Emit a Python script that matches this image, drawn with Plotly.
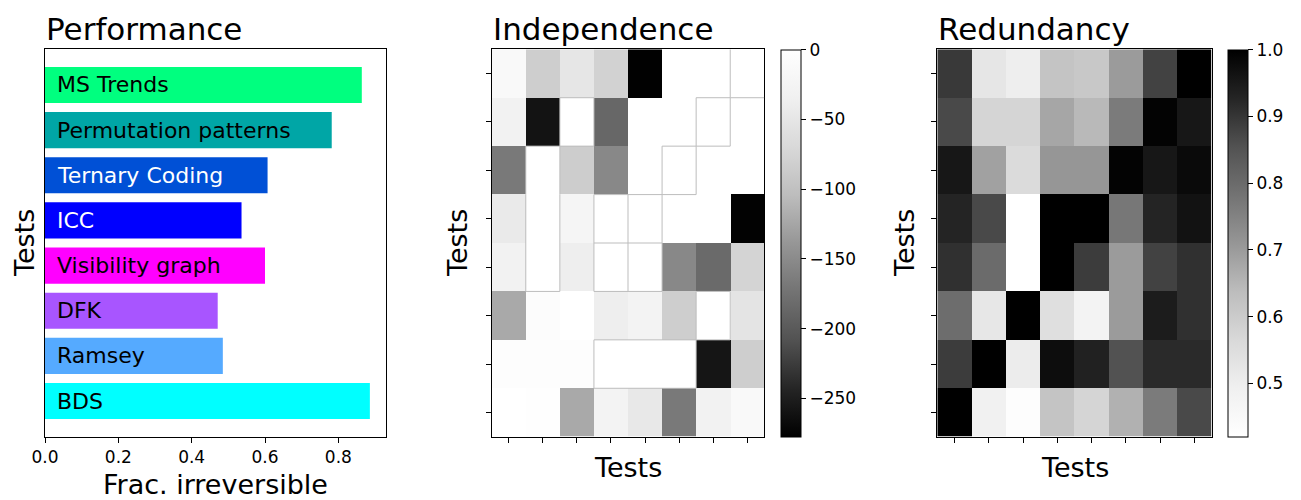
import numpy as np
import plotly.graph_objects as go

# ---- data -------------------------------------------------------------
tests = ["MS Trends", "Permutation patterns", "Ternary Coding", "ICC",
         "Visibility graph", "DFK", "Ramsey", "BDS"]
frac_irreversible = [0.864, 0.782, 0.607, 0.536, 0.600, 0.471, 0.485, 0.886]
bar_colors = ["#00ff7f", "#00a6a6", "#0050d6", "#0000ff",
              "#ff00ff", "#a855ff", "#55aaff", "#00ffff"]
label_colors = ["black", "black", "white", "white",
                "black", "black", "black", "black"]

# log-probability of independence between pairs of tests
independence = [
    [-14, -83, -50, -78, -277, 0, 0, -1],
    [-31, -260, 0, -186, 0, 0, 0, 0],
    [-167, 0, -84, -153, 0, 0, 0, 0],
    [-44, 0, -22, 0, 0, 0, 0, -276],
    [-31, 0, -37, 0, 0, -153, -183, -76],
    [-122, -6, 0, -37, -28, -83, 0, -53],
    [-4, -4, -5, 0, 0, 0, -258, -83],
    [0, -3, -122, -28, -46, -167, -31, -14],
]
# cell groups outlined in the independence map (0 = no outline)
indep_groups = [
    [0, 0, 0, 0, 0, 0, 0, 1],
    [0, 0, 9, 0, 0, 0, 2, 0],
    [0, 7, 0, 0, 0, 3, 0, 0],
    [0, 7, 0, 6, 4, 0, 0, 0],
    [0, 7, 0, 5, 10, 0, 0, 0],
    [0, 0, 0, 0, 0, 0, 11, 0],
    [0, 0, 0, 8, 8, 8, 0, 0],
    [0, 0, 0, 0, 0, 0, 0, 0],
]

redundancy = [
    [0.895, 0.525, 0.500, 0.620, 0.610, 0.700, 0.880, 1.000],
    [0.870, 0.575, 0.575, 0.680, 0.645, 0.765, 0.995, 0.955],
    [0.955, 0.690, 0.560, 0.710, 0.710, 0.995, 0.955, 0.980],
    [0.930, 0.870, 0.420, 1.000, 1.000, 0.775, 0.930, 0.965],
    [0.910, 0.800, 0.420, 1.000, 0.890, 0.700, 0.880, 0.910],
    [0.795, 0.520, 1.000, 0.545, 0.480, 0.700, 0.945, 0.910],
    [0.890, 1.000, 0.505, 0.975, 0.935, 0.855, 0.920, 0.920],
    [1.000, 0.490, 0.430, 0.620, 0.575, 0.660, 0.765, 0.870],
]

indep_ticks = [0, -50, -100, -150, -200, -250]
redund_ticks = [0.5, 0.6, 0.7, 0.8, 0.9, 1.0]
perf_ticks = [0.0, 0.2, 0.4, 0.6, 0.8]

# ---- layout geometry ----------------------------------------------------
W, H = 1301, 500
FONT = "DejaVu Sans"
y_dom = [63.3 / H, 450.7 / H]
bar_dom = [45 / W, 386 / W]
ind_dom = [491.7 / W, 764.3 / W]
red_dom = [937.3 / W, 1211.7 / W]

greys = [[0.0, "#ffffff"], [0.125, "#f0f0f0"], [0.25, "#d9d9d9"],
         [0.375, "#bdbdbd"], [0.5, "#969696"], [0.625, "#737373"],
         [0.75, "#525252"], [0.875, "#252525"], [1.0, "#000000"]]
greys_r = [[1 - p, c] for p, c in reversed(greys)]

fig = go.Figure()

n = len(tests)
ypos = list(range(n - 1, -1, -1))  # first test at the top

fig.add_trace(go.Bar(
    x=frac_irreversible, y=ypos, orientation="h", width=0.8,
    marker=dict(color=bar_colors, line=dict(width=0)),
    xaxis="x", yaxis="y", showlegend=False, hoverinfo="skip"))


def colorbar(left_px, ticks, fmt=None):
    cb = dict(x=left_px / W, xanchor="left", xpad=0, ypad=0,
              y=y_dom[0], yanchor="bottom", len=y_dom[1] - y_dom[0],
              lenmode="fraction", thickness=20, thicknessmode="pixels",
              outlinecolor="black", outlinewidth=1,
              ticks="outside", ticklen=5, tickcolor="black",
              tickvals=ticks,
              tickfont=dict(family=FONT, size=17, color="black"))
    if fmt:
        cb["tickformat"] = fmt
    return cb


cells = list(range(8))
fig.add_trace(go.Heatmap(
    z=independence, x=cells, y=cells, colorscale=greys_r,
    zmin=-277.5, zmax=0, xaxis="x2", yaxis="y2", hoverinfo="skip",
    colorbar=colorbar(781, indep_ticks)))

fig.add_trace(go.Heatmap(
    z=redundancy, x=cells, y=cells, colorscale=greys,
    zmin=0.42, zmax=1.0, xaxis="x3", yaxis="y3", hoverinfo="skip",
    colorbar=colorbar(1227.7, redund_ticks, ".1f")))

axis_common = dict(showline=True, mirror=True, linecolor="black", linewidth=1,
                   showgrid=False, zeroline=False, ticks="outside", ticklen=5,
                   tickcolor="black", tickwidth=1, automargin=False,
                   tickfont=dict(family=FONT, size=17, color="black"))

heat_x = dict(axis_common, range=[-0.5, 7.5], tickvals=cells,
              ticktext=[""] * 8)
heat_y = dict(axis_common, range=[7.5, -0.5], tickvals=cells,
              ticktext=[""] * 8)

fig.update_layout(
    width=W, height=H, margin=dict(l=0, r=0, t=0, b=0, pad=0),
    autosize=False,
    paper_bgcolor="white", plot_bgcolor="white",
    font=dict(family=FONT, color="black"),
    xaxis=dict(axis_common, domain=bar_dom, anchor="y", range=[0, 0.93],
               tickvals=perf_ticks, tickformat=".1f"),
    yaxis=dict(axis_common, domain=y_dom, anchor="x", range=[-0.79, 7.79],
               ticks="", showticklabels=False),
    xaxis2=dict(heat_x, domain=ind_dom, anchor="y2"),
    yaxis2=dict(heat_y, domain=y_dom, anchor="x2"),
    xaxis3=dict(heat_x, domain=red_dom, anchor="y3"),
    yaxis3=dict(heat_y, domain=y_dom, anchor="x3"),
)

# test names written inside the bars
for name, yv, col in zip(tests, ypos, label_colors):
    fig.add_annotation(x=0.028, y=yv, xref="x", yref="y", text=name,
                       showarrow=False, xanchor="left", yanchor="middle",
                       font=dict(family=FONT, size=22, color=col))

# light outlines around the grouped cells of the independence map
g = np.array(indep_groups)
rows, cols = g.shape
for r in range(rows):
    for c in range(cols):
        # boundary with right neighbour
        if c + 1 < cols and g[r, c] != g[r, c + 1] and (g[r, c] or g[r, c + 1]):
            fig.add_shape(type="line", xref="x2", yref="y2",
                          x0=c + 0.5, x1=c + 0.5, y0=r - 0.5, y1=r + 0.5,
                          line=dict(color="#bdbdbd", width=1))
        # boundary with lower neighbour
        if r + 1 < rows and g[r, c] != g[r + 1, c] and (g[r, c] or g[r + 1, c]):
            fig.add_shape(type="line", xref="x2", yref="y2",
                          x0=c - 0.5, x1=c + 0.5, y0=r + 0.5, y1=r + 0.5,
                          line=dict(color="#bdbdbd", width=1))


def paper_x(px):
    return px / W


def paper_y(py):
    return 1 - py / H


# panel titles
for text, left in [("Performance", 45), ("Independence", 491.7),
                   ("Redundancy", 937.3)]:
    fig.add_annotation(x=paper_x(left - 1), y=paper_y(29), xref="paper",
                       yref="paper", text=text, showarrow=False,
                       xanchor="left", yanchor="middle",
                       font=dict(family=FONT, size=31, color="black"))

# x-axis titles
fig.add_annotation(x=paper_x((45 + 386) / 2), y=paper_y(484), xref="paper",
                   yref="paper", text="Frac. irreversible", showarrow=False,
                   xanchor="center", yanchor="middle",
                   font=dict(family=FONT, size=27, color="black"))
for dom in (ind_dom, red_dom):
    fig.add_annotation(x=(dom[0] + dom[1]) / 2, y=paper_y(467), xref="paper",
                       yref="paper", text="Tests", showarrow=False,
                       xanchor="center", yanchor="middle",
                       font=dict(family=FONT, size=27, color="black"))

# y-axis titles
for cx in (24, 457, 904):
    fig.add_annotation(x=paper_x(cx), y=(y_dom[0] + y_dom[1]) / 2,
                       xref="paper", yref="paper", text="Tests",
                       showarrow=False, textangle=-90, xanchor="center",
                       yanchor="middle",
                       font=dict(family=FONT, size=27, color="black"))

fig.write_html("out.html")
